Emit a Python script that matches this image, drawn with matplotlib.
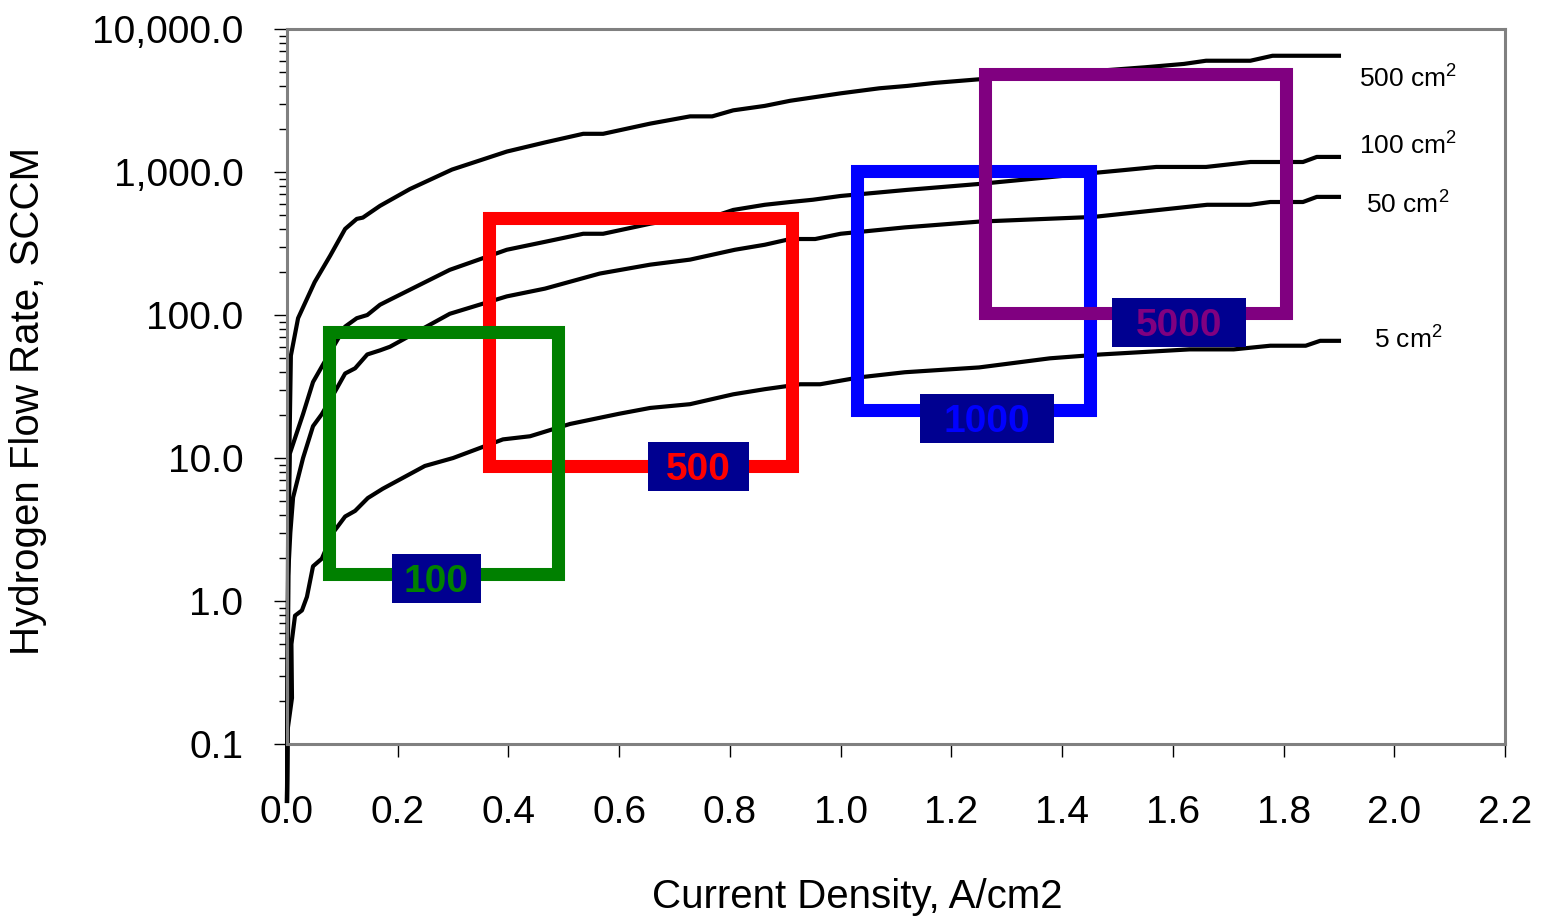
import matplotlib
matplotlib.use("Agg")
import matplotlib.pyplot as plt
from matplotlib.patches import Rectangle
from matplotlib.ticker import FuncFormatter, LogLocator, NullFormatter
import numpy as np

plt.rcParams['font.family'] = ['Liberation Sans', 'DejaVu Sans']
plt.rcParams['mathtext.fontset'] = 'custom'
plt.rcParams['mathtext.rm'] = 'Liberation Sans'
plt.rcParams['mathtext.it'] = 'Liberation Sans:italic'
plt.rcParams['mathtext.bf'] = 'Liberation Sans:bold'

# current density (A/cm2) vs hydrogen flow (SCCM)
x_500 = [0.0, 0.002, 0.007, 0.02, 0.05, 0.078, 0.105, 0.126, 0.137, 0.168,
         0.222, 0.298, 0.397, 0.466, 0.535, 0.571, 0.656, 0.728, 0.768,
         0.806, 0.863, 0.909, 1.0, 1.07, 1.12, 1.17, 1.25, 1.35, 1.45, 1.55,
         1.62, 1.66, 1.74, 1.78, 1.90]
y_500 = [0.04, 3, 52, 95, 170, 260, 400, 470, 480, 580,
         760, 1040, 1390, 1610, 1850, 1850, 2180, 2450, 2450,
         2700, 2900, 3150, 3550, 3850, 4000, 4200, 4450, 4750, 5050, 5400,
         5700, 6000, 6000, 6500, 6500]

x_100 = [0.0, 0.003, 0.005, 0.029, 0.047, 0.065, 0.087, 0.105, 0.126, 0.145,
         0.168, 0.186, 0.294, 0.397, 0.466, 0.535, 0.571, 0.656, 0.728,
         0.768, 0.806, 0.863, 0.909, 0.95, 1.0, 1.12, 1.25, 1.42, 1.51,
         1.57, 1.66, 1.74, 1.835, 1.86, 1.90]
y_100 = [0.04, 3, 10.7, 20.3, 34, 45, 63, 83, 95, 100,
         118, 128, 207, 286, 325, 370, 370, 435, 485,
         485, 543, 590, 617, 640, 680, 750, 825, 955, 1030,
         1085, 1085, 1175, 1175, 1275, 1275]

x_50 = [0.0, 0.002, 0.006, 0.011, 0.029, 0.047, 0.063, 0.087, 0.105, 0.123,
        0.145, 0.168, 0.186, 0.294, 0.397, 0.466, 0.565, 0.656, 0.728,
        0.809, 0.863, 0.909, 0.954, 1.0, 1.116, 1.25, 1.456, 1.662, 1.74,
        1.776, 1.835, 1.86, 1.90]
y_50 = [0.04, 1.5, 3, 5.3, 10, 16.7, 20.3, 29.3, 39, 42.4,
        53, 56.6, 60, 102, 135, 153, 195, 225, 244,
        286, 310, 340, 340, 370, 410, 450, 485, 590, 590,
        617, 617, 670, 670]

x_5 = [0.0, 0.001, 0.009, 0.008, 0.0145, 0.027, 0.036, 0.047, 0.063, 0.083,
       0.105, 0.123, 0.146, 0.173, 0.249, 0.30, 0.39, 0.439, 0.511, 0.60,
       0.656, 0.728, 0.806, 0.863, 0.927, 0.963, 1.035, 1.116, 1.25, 1.378,
       1.47, 1.63, 1.71, 1.776, 1.84, 1.866, 1.90]
y_5 = [0.04, 0.125, 0.21, 0.5, 0.79, 0.86, 1.07, 1.75, 1.98, 3.0,
       3.9, 4.27, 5.25, 6.1, 8.8, 10, 13.5, 14.2, 17.3, 20.4,
       22.4, 23.8, 27.9, 30.3, 32.8, 32.8, 36.7, 39.8, 43, 49.8,
       53, 57.5, 57.5, 61, 61, 66, 66]

curve_x = [x_500, x_100, x_50, x_5]
curve_y = [y_500, y_100, y_50, y_5]
curve_labels = ['500 cm$^2$', '100 cm$^2$', '50 cm$^2$', '5 cm$^2$']
curve_label_y = [3865, 1315, 508, 57.8]

# operating windows: current density range and flow range
window_names = ['500', '100', '1000', '5000']
window_colors = ['#ff0000', '#008000', '#0000ff', '#800080']
window_x = [(0.364, 0.912), (0.075, 0.49), (1.029, 1.451), (1.26, 1.804)]
window_y = [(8.8, 476), (1.55, 76), (21.8, 1020), (104, 4840)]
# where the name tags sit
tag_x = [0.743, 0.270, 1.264, 1.611]
tag_y = [8.73, 1.44, 18.9, 88.7]
tag_w = [0.182, 0.161, 0.242, 0.242]

fig = plt.figure(figsize=(15.43, 9.18), dpi=100)
ax = fig.add_axes([0.186, 0.1895, 0.7894, 0.7789])

for xs, ys in zip(curve_x, curve_y):
    ax.plot(xs, ys, color='black', lw=3, clip_on=False, zorder=2,
            solid_joinstyle='round')

for i, (name, col) in enumerate(zip(window_names, window_colors)):
    x0, x1 = window_x[i]
    y0, y1 = window_y[i]
    ax.add_patch(Rectangle((x0, y0), x1 - x0, y1 - y0, fill=False,
                           edgecolor=col, lw=9.4, joinstyle='miter',
                           zorder=3 + i))
    h = 1.48
    ax.add_patch(Rectangle((tag_x[i] - tag_w[i] / 2, tag_y[i] / h),
                           tag_w[i], tag_y[i] * h - tag_y[i] / h,
                           facecolor='#000090', edgecolor='none', zorder=10))
    ax.text(tag_x[i], tag_y[i], name, color=col, fontsize=28,
            fontweight='bold', ha='center', va='center_baseline', zorder=11)

for lab, ly in zip(curve_labels, curve_label_y):
    ax.text(2.025, ly, lab, fontsize=19, ha='center', va='baseline')

ax.set_xlim(0, 2.2)
ax.set_yscale('log')
ax.set_ylim(0.1, 10000)
ax.set_xticks(np.arange(0, 2.21, 0.2))
ax.xaxis.set_major_formatter(FuncFormatter(lambda v, p: '{:.1f}'.format(v)))
ax.set_yticks([0.1, 1, 10, 100, 1000, 10000])
ax.yaxis.set_major_formatter(FuncFormatter(lambda v, p: '{:,.1f}'.format(v)))
ax.yaxis.set_minor_locator(LogLocator(base=10, subs=np.arange(2, 10)))
ax.yaxis.set_minor_formatter(NullFormatter())

ax.tick_params(axis='both', which='major', direction='out', length=9.4,
               width=1.0, labelsize=28, color='black')
ax.tick_params(axis='x', pad=27)
ax.tick_params(axis='y', pad=22)
ax.tick_params(axis='y', which='minor', direction='out', length=6, width=1.0)

for s in ax.spines.values():
    s.set_color('#808080')
    s.set_linewidth(2.2)

ax.set_xlabel('Current Density, A/cm2', fontsize=29)
ax.xaxis.set_label_coords(0.468, -0.188)
ax.set_ylabel('Hydrogen Flow Rate, SCCM', fontsize=29)
ax.yaxis.set_label_coords(-0.197, 0.48)

fig.savefig('out.png', dpi=100)
